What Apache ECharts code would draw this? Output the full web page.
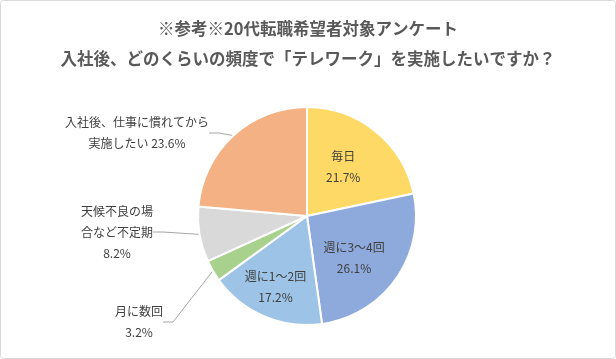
<!DOCTYPE html>
<html><head><meta charset="utf-8">
<script src="https://cdn.jsdelivr.net/npm/echarts@6/dist/echarts.min.js"></script>
<style>html,body{margin:0;padding:0;background:#fff}#c{width:616px;height:359px}</style>
</head><body><div id="c"></div>
<script>
const titleLines = ['※参考※20代転職希望者対象アンケート', '入社後、どのくらいの頻度で「テレワーク」を実施したいですか？'];
const categories = ['毎日', '週に3～4回', '週に1～2回', '月に数回', '天候不良の場合など不定期', '入社後、仕事に慣れてから実施したい'];
const labelTexts = ['毎日\n21.7%', '週に3～4回\n26.1%', '週に1～2回\n17.2%', '月に数回\n3.2%', '天候不良の場\n合など不定期\n8.2%', '入社後、仕事に慣れてから\n実施したい 23.6%'];
const values = [21.7, 26.1, 17.2, 3.2, 8.2, 23.6];
const colors = ['#FFD966', '#8EA9DB', '#9DC3E6', '#A9D18E', '#D9D9D9', '#F4B183'];
const inside = [true, true, true, false, false, false];
const outsideLabelPos = {3: [139, 322], 4: [117, 232], 5: [137, 133]};
const insideShift = {0: [0, -4], 1: [0, 9], 2: [-9, 18]};

const chart = echarts.init(document.getElementById('c'));
chart.setOption({
  animation: false,
  graphic: [{type: 'rect', shape: {x: 0.5, y: 0.5, width: 615, height: 358, r: 3}, style: {fill: 'none', stroke: '#d9d9d9', lineWidth: 1}, z: -1}],
  title: {
    text: titleLines.join('\n'), left: 'center', top: 9,
    textStyle: {fontFamily: 'Noto Sans CJK JP', fontSize: 16.5, fontWeight: 'bold', color: '#595959', lineHeight: 30}
  },
  series: [{
    type: 'pie', center: [307, 216], radius: 109, startAngle: 90, clockwise: true,
    itemStyle: {borderColor: '#fff', borderWidth: 2},
    label: {fontFamily: 'Noto Sans CJK JP', fontSize: 12, color: '#404040', lineHeight: 21},
    labelLine: {lineStyle: {color: '#a6a6a6', width: 1}, length: 15, length2: 10},
    labelLayout: function (p) {
      const pos = outsideLabelPos[p.dataIndex];
      if (pos) return {x: pos[0], y: pos[1], align: 'center', verticalAlign: 'middle'};
      const s = insideShift[p.dataIndex];
      if (s) return {dx: s[0], dy: s[1]};
      return {};
    },
    data: categories.map((c, i) => ({
      name: c, value: values[i],
      itemStyle: {color: colors[i]},
      label: {show: true, position: inside[i] ? 'inside' : 'outside', formatter: labelTexts[i], align: 'center'},
      labelLine: {show: !inside[i]}
    }))
  }]
});
</script></body></html>
